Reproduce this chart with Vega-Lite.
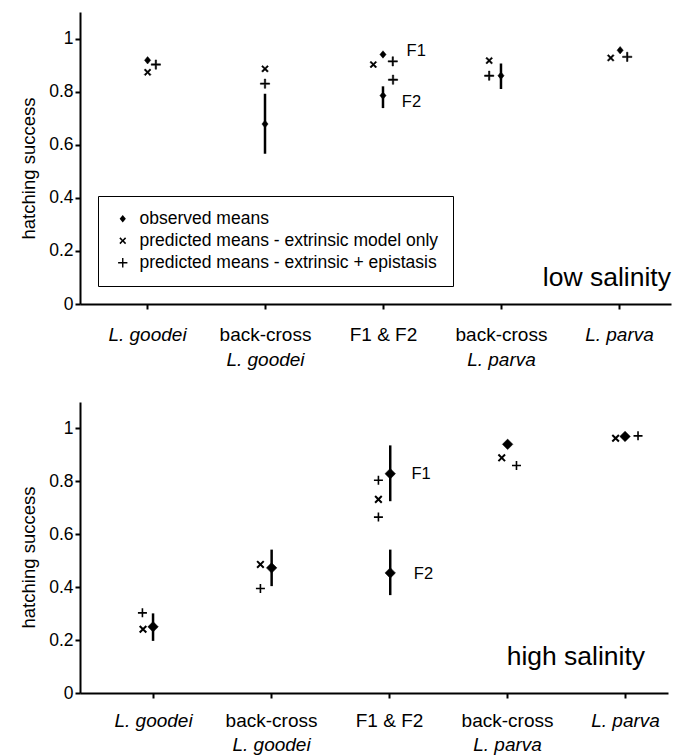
{
  "$schema": "https://vega.github.io/schema/vega-lite/v6.json",
  "padding": {"left": 19, "top": 12, "right": 6, "bottom": 4},
  "bounds": "flush",
  "spacing": 98,
  "config": {
    "font": "Liberation Sans",
    "view": {"stroke": null},
    "axis": {"grid": false, "domainColor": "black", "domainWidth": 2, "tickColor": "black", "tickWidth": 2, "tickSize": 5, "labelColor": "black", "titleColor": "black", "titleFontWeight": "normal"}
  },
  "datasets": {
    "low": [
      {"series": "observed means", "x": 1.005, "y": 0.918},
      {"series": "predicted means - extrinsic model only", "x": 1.005, "y": 0.873},
      {"series": "predicted means - extrinsic + epistasis", "x": 1.075, "y": 0.902},
      {"series": "observed means", "x": 2.0, "y": 0.678, "lo": 0.566, "hi": 0.792},
      {"series": "predicted means - extrinsic model only", "x": 2.0, "y": 0.886},
      {"series": "predicted means - extrinsic + epistasis", "x": 2.0, "y": 0.83},
      {"series": "observed means", "x": 3.0, "y": 0.94},
      {"series": "predicted means - extrinsic model only", "x": 2.918, "y": 0.902},
      {"series": "predicted means - extrinsic + epistasis", "x": 3.083, "y": 0.914},
      {"series": "observed means", "x": 3.0, "y": 0.785, "lo": 0.738, "hi": 0.82},
      {"series": "predicted means - extrinsic + epistasis", "x": 3.085, "y": 0.845},
      {"series": "observed means", "x": 4.0, "y": 0.86, "lo": 0.81, "hi": 0.906},
      {"series": "predicted means - extrinsic model only", "x": 3.9, "y": 0.917},
      {"series": "predicted means - extrinsic + epistasis", "x": 3.9, "y": 0.86},
      {"series": "observed means", "x": 5.01, "y": 0.956},
      {"series": "predicted means - extrinsic model only", "x": 4.93, "y": 0.927},
      {"series": "predicted means - extrinsic + epistasis", "x": 5.07, "y": 0.931},
      {"series": "label", "x": 3.2, "y": 0.952, "text": "F1"},
      {"series": "label", "x": 3.16, "y": 0.76, "text": "F2"}
    ],
    "high": [
      {"series": "observed means", "x": 1.0, "y": 0.25, "lo": 0.197, "hi": 0.301},
      {"series": "predicted means - extrinsic model only", "x": 0.915, "y": 0.241},
      {"series": "predicted means - extrinsic + epistasis", "x": 0.91, "y": 0.303},
      {"series": "observed means", "x": 2.005, "y": 0.473, "lo": 0.404, "hi": 0.542},
      {"series": "predicted means - extrinsic model only", "x": 1.91, "y": 0.486},
      {"series": "predicted means - extrinsic + epistasis", "x": 1.91, "y": 0.395},
      {"series": "observed means", "x": 3.01, "y": 0.829, "lo": 0.725, "hi": 0.936},
      {"series": "predicted means - extrinsic + epistasis", "x": 2.91, "y": 0.804},
      {"series": "predicted means - extrinsic model only", "x": 2.91, "y": 0.732},
      {"series": "predicted means - extrinsic + epistasis", "x": 2.91, "y": 0.665},
      {"series": "observed means", "x": 3.01, "y": 0.454, "lo": 0.37, "hi": 0.542},
      {"series": "observed means", "x": 4.005, "y": 0.94},
      {"series": "predicted means - extrinsic model only", "x": 3.955, "y": 0.889},
      {"series": "predicted means - extrinsic + epistasis", "x": 4.08, "y": 0.86},
      {"series": "observed means", "x": 5.0, "y": 0.97},
      {"series": "predicted means - extrinsic model only", "x": 4.92, "y": 0.963},
      {"series": "predicted means - extrinsic + epistasis", "x": 5.11, "y": 0.972},
      {"series": "label", "x": 3.19, "y": 0.826, "text": "F1"},
      {"series": "label", "x": 3.21, "y": 0.449, "text": "F2"}
    ],
    "lowNote": [{"x": 5.441, "y": 0.098, "text": "low salinity"}],
    "highNote": [{"x": 5.17, "y": 0.136, "text": "high salinity"}]
  },
  "vconcat": [
    {
      "width": 591,
      "height": 292,
      "resolve": {"scale": {"x": "independent"}, "axis": {"x": "independent"}},
      "layer": [
        {
          "data": {"name": "low"},
          "encoding": {
            "x": {"field": "x", "type": "quantitative", "scale": {"domain": [0.432, 5.441], "nice": false, "zero": false}, "axis": {"values": [1, 2, 3, 4, 5], "labelExpr": "['L. goodei','back-cross','F1 & F2','back-cross','L. parva'][datum.value - 1]", "labelFontSize": 19, "labelFontStyle": {"condition": {"test": "datum.value == 1 || datum.value == 5", "value": "italic"}, "value": "normal"}, "labelPadding": 16, "title": null}},
            "y": {"field": "y", "type": "quantitative", "scale": {"domain": [0, 1.1], "nice": false}, "axis": {"values": [0, 0.2, 0.4, 0.6, 0.8, 1], "labelExpr": "'' + datum.value", "title": "hatching success", "titleFontSize": 18.5, "titleY": 156, "labelFontSize": 17.5, "labelPadding": 2, "titlePadding": 10}}
          },
          "layer": [
            {
              "transform": [{"filter": "isValid(datum.lo)"}],
              "mark": {"type": "rule", "strokeWidth": 2.5, "color": "black"},
              "encoding": {
                "y": {"field": "lo", "type": "quantitative", "scale": {"domain": [0, 1.1], "nice": false}, "axis": {"values": [0, 0.2, 0.4, 0.6, 0.8, 1], "labelExpr": "'' + datum.value", "title": "hatching success", "titleFontSize": 18.5, "titleY": 156, "labelFontSize": 17.5, "labelPadding": 2, "titlePadding": 10}},
                "y2": {"field": "hi"}
              }
            },
            {
              "transform": [{"filter": "datum.series != 'label'"}],
              "mark": {"type": "point", "size": 100, "filled": true, "fill": "black", "stroke": "black", "strokeWidth": 0.5, "opacity": 1},
              "encoding": {
                "shape": {"field": "series", "type": "nominal", "scale": {"domain": ["observed means", "predicted means - extrinsic model only", "predicted means - extrinsic + epistasis"], "range": ["M0,-0.74L0.62,0L0,0.74L-0.62,0Z", "M-0.68,-0.46L-0.46,-0.68L0,-0.22L0.46,-0.68L0.68,-0.46L0.22,0L0.68,0.46L0.46,0.68L0,0.22L-0.46,0.68L-0.68,0.46L-0.22,0Z", "M-0.93,-0.14L-0.14,-0.14L-0.14,-0.93L0.14,-0.93L0.14,-0.14L0.93,-0.14L0.93,0.14L0.14,0.14L0.14,0.93L-0.14,0.93L-0.14,0.14L-0.93,0.14Z"]}, "legend": {"title": null, "orient": "none", "legendX": 18, "legendY": 184, "strokeColor": "black", "padding": 14, "labelFontSize": 17.5, "labelColor": "black", "symbolSize": 100, "symbolFillColor": "black", "symbolStrokeColor": "black", "symbolStrokeWidth": 0.5, "rowPadding": 3, "symbolOffset": 2, "labelOffset": 8, "labelLimit": 0, "encode": {"symbols": {"update": {"fill": {"value": "black"}, "stroke": {"value": "black"}, "strokeWidth": {"value": 0.5}, "opacity": {"value": 1}}}}}}
              }
            },
            {
              "transform": [{"filter": "datum.series == 'label'"}],
              "mark": {"type": "text", "align": "left", "baseline": "middle", "fontSize": 16.5, "color": "black"},
              "encoding": {"text": {"field": "text"}}
            }
          ]
        },
        {
          "data": {"name": "lowNote"},
          "mark": {"type": "text", "align": "right", "baseline": "middle", "fontSize": 26.5, "color": "black"},
          "encoding": {
            "x": {"field": "x", "type": "quantitative", "scale": {"domain": [0.432, 5.441], "nice": false, "zero": false}, "axis": {"orient": "bottom", "values": [2, 4], "labelExpr": "datum.value == 2 ? 'L. goodei' : 'L. parva'", "labelFontSize": 19, "labelFontStyle": "italic", "domain": false, "ticks": false, "labelPadding": 46, "title": null}},
            "y": {"field": "y", "type": "quantitative", "scale": {"domain": [0, 1.1], "nice": false}, "axis": {"values": [0, 0.2, 0.4, 0.6, 0.8, 1], "labelExpr": "'' + datum.value", "title": "hatching success", "titleFontSize": 18.5, "titleY": 156, "labelFontSize": 17.5, "labelPadding": 2, "titlePadding": 10}},
            "text": {"field": "text"}
          }
        }
      ]
    },
    {
      "width": 588,
      "height": 291,
      "resolve": {"scale": {"x": "independent"}, "axis": {"x": "independent"}},
      "layer": [
        {
          "data": {"name": "high"},
          "encoding": {
            "x": {"field": "x", "type": "quantitative", "scale": {"domain": [0.381, 5.364], "nice": false, "zero": false}, "axis": {"values": [1, 2, 3, 4, 5], "labelExpr": "['L. goodei','back-cross','F1 & F2','back-cross','L. parva'][datum.value - 1]", "labelFontSize": 19, "labelFontStyle": {"condition": {"test": "datum.value == 1 || datum.value == 5", "value": "italic"}, "value": "normal"}, "labelPadding": 13, "title": null}},
            "y": {"field": "y", "type": "quantitative", "scale": {"domain": [0, 1.1], "nice": false}, "axis": {"values": [0, 0.2, 0.4, 0.6, 0.8, 1], "labelExpr": "'' + datum.value", "title": "hatching success", "titleFontSize": 18.5, "titleY": 155, "labelFontSize": 17.5, "labelPadding": 2, "titlePadding": 10}}
          },
          "layer": [
            {
              "transform": [{"filter": "isValid(datum.lo)"}],
              "mark": {"type": "rule", "strokeWidth": 2.5, "color": "black"},
              "encoding": {
                "y": {"field": "lo", "type": "quantitative", "scale": {"domain": [0, 1.1], "nice": false}, "axis": {"values": [0, 0.2, 0.4, 0.6, 0.8, 1], "labelExpr": "'' + datum.value", "title": "hatching success", "titleFontSize": 18.5, "titleY": 155, "labelFontSize": 17.5, "labelPadding": 2, "titlePadding": 10}},
                "y2": {"field": "hi"}
              }
            },
            {
              "transform": [{"filter": "datum.series == 'observed means'"}],
              "mark": {"type": "point", "shape": "diamond", "size": 110, "filled": true, "fill": "black", "stroke": "black", "strokeWidth": 0.5, "opacity": 1}
            },
            {
              "transform": [{"filter": "datum.series == 'predicted means - extrinsic model only'"}],
              "mark": {"type": "point", "shape": "M-1,-1L1,1M-1,1L1,-1", "size": 44, "fill": "transparent", "stroke": "black", "strokeWidth": 2, "opacity": 1}
            },
            {
              "transform": [{"filter": "datum.series == 'predicted means - extrinsic + epistasis'"}],
              "mark": {"type": "point", "shape": "M-1,0L1,0M0,-1L0,1", "size": 81, "fill": "transparent", "stroke": "black", "strokeWidth": 1.6, "opacity": 1}
            },
            {
              "transform": [{"filter": "datum.series == 'label'"}],
              "mark": {"type": "text", "align": "left", "baseline": "middle", "fontSize": 16.5, "color": "black"},
              "encoding": {"text": {"field": "text"}}
            }
          ]
        },
        {
          "data": {"name": "highNote"},
          "mark": {"type": "text", "align": "right", "baseline": "middle", "fontSize": 26.5, "color": "black"},
          "encoding": {
            "x": {"field": "x", "type": "quantitative", "scale": {"domain": [0.381, 5.364], "nice": false, "zero": false}, "axis": {"orient": "bottom", "values": [2, 4], "labelExpr": "datum.value == 2 ? 'L. goodei' : 'L. parva'", "labelFontSize": 19, "labelFontStyle": "italic", "domain": false, "ticks": false, "labelPadding": 42, "title": null}},
            "y": {"field": "y", "type": "quantitative", "scale": {"domain": [0, 1.1], "nice": false}, "axis": {"values": [0, 0.2, 0.4, 0.6, 0.8, 1], "labelExpr": "'' + datum.value", "title": "hatching success", "titleFontSize": 18.5, "titleY": 155, "labelFontSize": 17.5, "labelPadding": 2, "titlePadding": 10}},
            "text": {"field": "text"}
          }
        }
      ]
    }
  ]
}
